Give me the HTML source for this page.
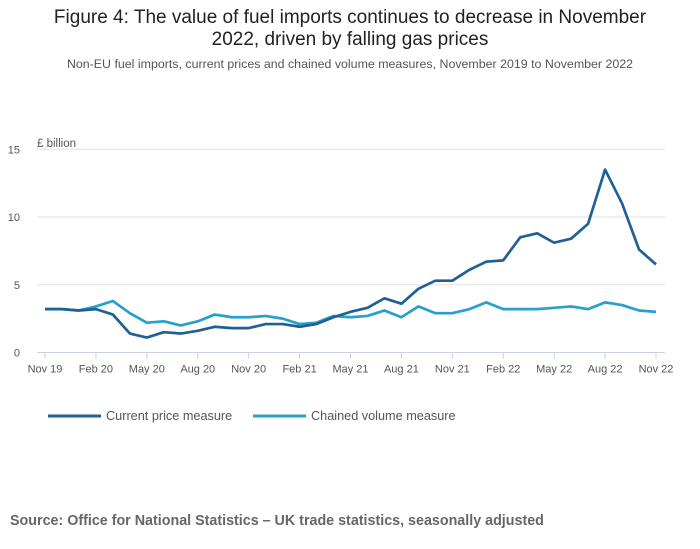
<!DOCTYPE html>
<html><head><meta charset="utf-8"><style>
body{margin:0;background:#fff;font-family:"Liberation Sans",sans-serif;}
#wrap{position:relative;width:700px;height:549px;overflow:hidden}
.t{position:absolute;white-space:nowrap}
</style></head><body>
<div id="wrap">
<div class="t" style="left:0;width:700px;text-align:center;top:7px;font-size:19px;line-height:22px;color:#222">Figure 4: The value of fuel imports continues to decrease in November<br>2022, driven by falling gas prices</div>
<div class="t" style="left:0;width:700px;text-align:center;top:57px;font-size:12.4px;color:#555">Non-EU fuel imports, current prices and chained volume measures, November 2019 to November 2022</div>
<div class="t" style="left:10px;top:513px;font-size:14.3px;font-weight:bold;color:#666">Source: Office for National Statistics – UK trade statistics, seasonally adjusted</div>
<svg id="c" width="700" height="549" style="position:absolute;left:0;top:0"></svg>
</div>
<script>
const xLabels=["Nov 19","Feb 20","May 20","Aug 20","Nov 20","Feb 21","May 21","Aug 21","Nov 21","Feb 22","May 22","Aug 22","Nov 22"];
const yTicks=[0,5,10,15];
const currentPrice=[3.2,3.2,3.1,3.2,2.8,1.4,1.1,1.5,1.4,1.6,1.9,1.8,1.8,2.1,2.1,1.9,2.1,2.6,3.0,3.3,4.0,3.6,4.7,5.3,5.3,6.1,6.7,6.8,8.5,8.8,8.1,8.4,9.5,13.5,11.0,7.6,6.5];
const chainedVolume=[3.2,3.2,3.1,3.4,3.8,2.9,2.2,2.3,2.0,2.3,2.8,2.6,2.6,2.7,2.5,2.1,2.2,2.7,2.6,2.7,3.1,2.6,3.4,2.9,2.9,3.2,3.7,3.2,3.2,3.2,3.3,3.4,3.2,3.7,3.5,3.1,3.0];
const NS="http://www.w3.org/2000/svg";
const svg=document.getElementById('c');
const x0=45,x1=656,y0=352.5,pxPerUnit=13.55;
const X=i=>x0+(x1-x0)*i/(currentPrice.length-1);
const Y=v=>y0-v*pxPerUnit;
function mk(tag,attrs){const e=document.createElementNS(NS,tag);for(const k in attrs)e.setAttribute(k,attrs[k]);svg.appendChild(e);return e;}
yTicks.forEach(v=>{
  if(v>0){const g=mk('line',{x1:37,x2:665,y1:Y(v),y2:Y(v),stroke:'#e2e2e2','stroke-width':1});
  
  }
  const t=mk('text',{x:20,y:Y(v)+4,'text-anchor':'end','font-size':11,fill:'#555','font-family':'Liberation Sans, sans-serif'});
  t.textContent=v;
  
  
});
const yt=mk('text',{x:37,y:147,'font-size':11.5,fill:'#555','font-family':'Liberation Sans, sans-serif'});
yt.textContent='£ billion';


const ax=mk('line',{x1:37,x2:665,y1:y0,y2:y0,stroke:'#c6d2e4','stroke-width':1});


xLabels.forEach((l,k)=>{
  const xx=X(k*3);
  const tk=mk('line',{x1:xx,x2:xx,y1:y0,y2:y0+6,stroke:'#c6d2e4'});
  
  
  const t=mk('text',{x:xx,y:y0+20,'text-anchor':'middle','font-size':11,fill:'#555','font-family':'Liberation Sans, sans-serif'});
  t.textContent=l;
  
  
});
function series(d,col,name){
  const p=mk('polyline',{points:d.map((v,i)=>X(i)+','+Y(v)).join(' '),fill:'none',stroke:col,'stroke-width':2.7,'stroke-linejoin':'round'});
  
  
}
series(chainedVolume,'#27a0cc','chained-volume-line');
series(currentPrice,'#206095','current-price-line');
[[48,'#206095','Current price measure','legend-current-price'],[253,'#27a0cc','Chained volume measure','legend-chained-volume']].forEach(([lx,col,txt,nm])=>{
  const l=mk('line',{x1:lx,x2:lx+53,y1:416,y2:416,stroke:col,'stroke-width':3});
  
  
  const t=mk('text',{x:lx+58,y:420,'font-size':12.7,fill:'#555','font-family':'Liberation Sans, sans-serif'});
  t.textContent=txt;
  
  
});
</script>
</body></html>
